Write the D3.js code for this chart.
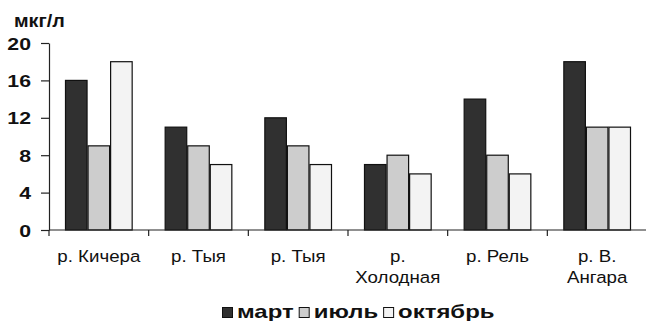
<!DOCTYPE html>
<html><head><meta charset="utf-8">
<script src="https://cdn.jsdelivr.net/npm/d3@7"></script>
<style>
html,body{margin:0;padding:0;background:#fff;}
svg{display:block;font-family:"Liberation Sans",Arial,sans-serif;}
</style></head>
<body>
<svg id="chart" width="646" height="321"></svg>
<script>
const categories = [["р. Кичера"], ["р. Тыя"], ["р. Тыя"], ["р.", "Холодная"], ["р. Рель"], ["р. В.", "Ангара"]];
const seriesNames = ["март", "июль", "октябрь"];
const march = [16, 11, 12, 7, 14, 18];
const july = [9, 9, 9, 8, 8, 11];
const october = [18, 7, 7, 6, 6, 11];
const yTicks = [0, 4, 8, 12, 16, 20];
const unitLabel = "мкг/л";
const colors = ["#303030", "#cdcdcd", "#f3f3f3"];

(function () {
const seriesValues = [march, july, october];
const svg = d3.select("#chart");
const mLeft = 49, mRight = 647, mTop = 43, mBottom = 230;

const x0 = d3.scaleBand().domain(d3.range(categories.length)).range([mLeft, mRight]).paddingInner(0).paddingOuter(0);
const x1 = d3.scaleBand().domain(d3.range(seriesNames.length)).range([16, x0.bandwidth() - 16]).padding(0);
const y = d3.scaleLinear().domain([0, 20]).range([mBottom, mTop]);

// bars
categories.forEach((c, i) => {
  seriesValues.forEach((vals, s) => {
    svg.append("rect")
      .attr("x", x0(i) + x1(s) + 0.5)
      .attr("y", y(vals[i]))
      .attr("width", x1.bandwidth() - 1)
      .attr("height", y(0) - y(vals[i]))
      .attr("fill", colors[s])
      .attr("stroke", "#111")
      .attr("stroke-width", 1.2);
  });
});

// y axis
const ySx = 1.25;
const yAxis = d3.axisLeft(y).tickValues(yTicks).tickSize(8).tickSizeOuter(0).tickPadding(18);
const gy = svg.append("g").attr("transform", `translate(${mLeft},0)`).call(yAxis);
gy.select(".domain").attr("stroke", "#222").attr("stroke-width", 1.2);
gy.selectAll(".tick line").attr("stroke", "#222").attr("stroke-width", 1.2);
gy.selectAll(".tick text").attr("font-size", 17).attr("font-weight", "bold").attr("fill", "#111")
  .attr("font-family", '"Liberation Sans", Arial, sans-serif')
  .attr("x", -18 / ySx).attr("transform", `scale(${ySx},1)`).attr("dy", "0.36em");

// x axis
const xEdges = d3.range(categories.length + 1).map(i => i < categories.length ? x0(i) : mRight);
svg.append("line").attr("x1", mLeft).attr("x2", mRight).attr("y1", y(0)).attr("y2", y(0))
  .attr("stroke", "#222").attr("stroke-width", 1.2);
xEdges.forEach(xe => {
  svg.append("line").attr("x1", xe).attr("x2", xe).attr("y1", y(0)).attr("y2", y(0) + 6)
    .attr("stroke", "#222").attr("stroke-width", 1.2);
});

// category labels
const cSx = 1.1;
categories.forEach((lines, i) => {
  const cx = x0(i) + x0.bandwidth() / 2;
  const t = svg.append("text").attr("text-anchor", "middle").attr("font-size", 17).attr("fill", "#111")
    .attr("transform", `translate(${cx},0) scale(${cSx},1)`);
  lines.forEach((ln, k) => {
    t.append("tspan").attr("x", 0).attr("y", 262 + k * 21.5).text(ln);
  });
});

// unit label
svg.append("text").attr("x", 14).attr("y", 27).attr("font-size", 19).attr("font-weight", "bold")
  .attr("fill", "#111").attr("transform", "translate(14,0) scale(1.04,1) translate(-14,0)").text(unitLabel);

// legend
const lSx = 1.33;
let lx = 222;
seriesNames.forEach((n, s) => {
  svg.append("rect").attr("x", lx + 0.5).attr("y", 307.5).attr("width", 10).attr("height", 10)
    .attr("fill", colors[s]).attr("stroke", "#111").attr("stroke-width", 1);
  const t = svg.append("text").attr("x", 0).attr("y", 318).attr("font-size", 18)
    .attr("font-weight", "bold").attr("fill", "#111")
    .attr("transform", `translate(${lx + 15},0) scale(${lSx},1)`).text(n);
  lx += 15 + t.node().getComputedTextLength() * lSx + 5;
});
})();
</script>
</body></html>
